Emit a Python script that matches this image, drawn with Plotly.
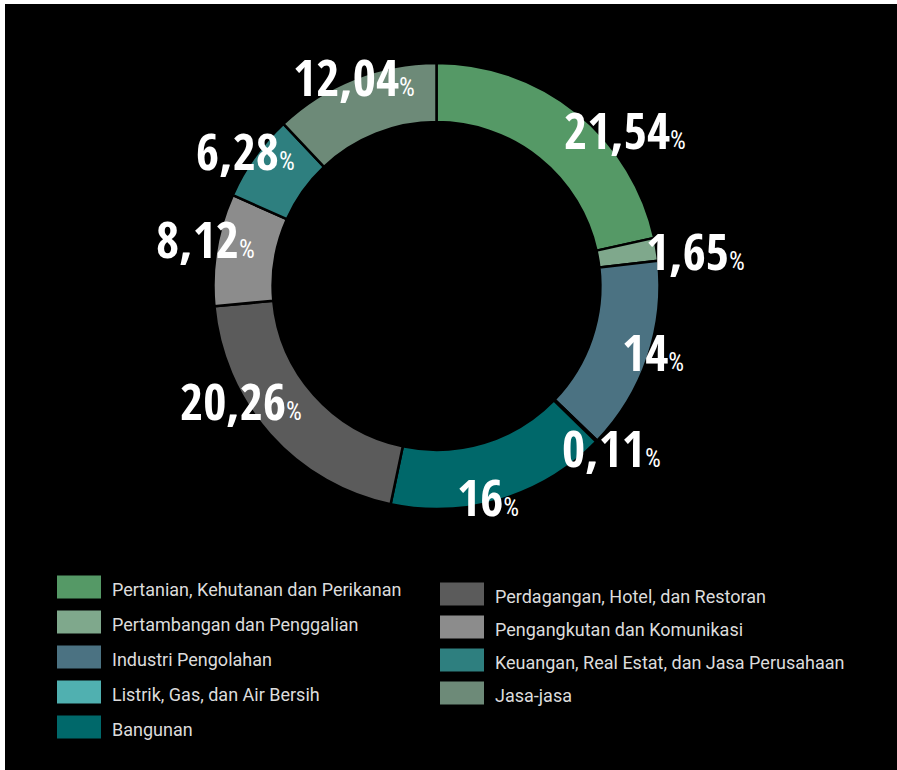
import math
import plotly.graph_objects as go

categories = [
    "Pertanian, Kehutanan dan Perikanan",
    "Pertambangan dan Penggalian",
    "Industri Pengolahan",
    "Listrik, Gas, dan Air Bersih",
    "Bangunan",
    "Perdagangan, Hotel, dan Restoran",
    "Pengangkutan dan Komunikasi",
    "Keuangan, Real Estat, dan Jasa Perusahaan",
    "Jasa-jasa",
]
values = [21.54, 1.65, 14, 0.11, 16, 20.26, 8.12, 6.28, 12.04]
value_labels = ["21,54", "1,65", "14", "0,11", "16", "20,26", "8,12", "6,28", "12,04"]
colors = ["#559966", "#7fa88c", "#4b7282", "#50b0b0", "#00686a",
          "#5b5b5b", "#8c8c8c", "#2e7f7f", "#6d8a78"]

# label placement tweaks (layout only): angular nudge in degrees, radius as fraction of R
label_nudge_deg = [11.6, 1.8, -1.7, -1.2, 3.2, 11.2, 2.1, -0.1, 0.2]
label_radius = [1.097, 1.170, 1.015, 1.068, 0.974, 1.017, 1.055, 1.051, 1.008]

W, H = 897, 770
cx, cy, R = 436.5, 286.0, 223.0  # pixel layout of the donut

fig = go.Figure()
fig.add_trace(go.Pie(
    labels=categories,
    values=values,
    sort=False,
    direction="clockwise",
    rotation=0,
    hole=0.735,
    marker=dict(colors=colors, line=dict(color="#000000", width=2.5)),
    textinfo="none",
    hoverinfo="label+value",
    showlegend=False,
    domain=dict(x=[(cx - R) / W, (cx + R) / W], y=[(H - cy - R) / H, (H - cy + R) / H]),
))

# value labels placed around each slice's mid-angle, near the outer edge
total = sum(values)
cum = 0.0
annotations = []
for v, lab, nd, rf in zip(values, value_labels, label_nudge_deg, label_radius):
    mid = (cum + v / 2) / total * 2 * math.pi + math.radians(nd)
    cum += v
    r = R * rf
    px = cx + r * math.sin(mid)
    py = cy - r * math.cos(mid)
    annotations.append(dict(
        x=px / W, y=1 - py / H, xref="paper", yref="paper",
        xanchor="center", yanchor="middle", showarrow=False,
        text=lab + "<span style='font-size:25px;font-weight:normal;font-family:Roboto Condensed'>%</span>",
        font=dict(family="Open Sans Condensed, Roboto Condensed, sans-serif",
                  size=50, color="#ffffff", weight="bold"),
    ))

# manual two-column legend (column-major order as in the reference)
shapes = [dict(type="rect", xref="paper", yref="paper", x0=5 / W, x1=1, y0=0, y1=1 - 4 / H,
               fillcolor="#000000", line=dict(width=0), layer="below")]
left_n = 5
col_specs = [(57, 587, 35), (440, 594, 33)]
for i, (cat, col) in enumerate(zip(categories, colors)):
    c = 0 if i < left_n else 1
    row = i if i < left_n else i - left_n
    x0, y0, step = col_specs[c]
    yc = y0 + row * step
    shapes.append(dict(type="rect", xref="paper", yref="paper",
                       x0=x0 / W, x1=(x0 + 44) / W,
                       y0=1 - (yc + 11.5) / H, y1=1 - (yc - 11.5) / H,
                       fillcolor=col, line=dict(width=0)))
    annotations.append(dict(
        x=(x0 + 53) / W, y=1 - (yc + 2) / H, xref="paper", yref="paper",
        xanchor="left", yanchor="middle", showarrow=False, text=cat,
        font=dict(family="Roboto, Inter, sans-serif", size=18, color="#dcdcdc"),
    ))

fig.update_layout(
    width=W, height=H,
    margin=dict(l=0, r=0, t=0, b=0),
    paper_bgcolor="#ffffff",
    plot_bgcolor="#000000",
    annotations=annotations,
    shapes=shapes,
)

fig.write_html("out.html", config={"displayModeBar": False},
               post_script="document.body.style.margin='0';")
